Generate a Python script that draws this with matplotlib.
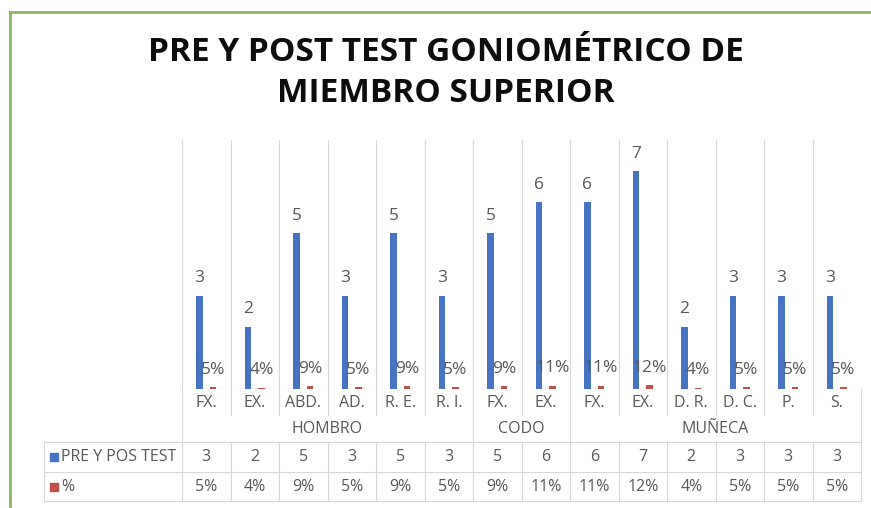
import numpy as np
import matplotlib
matplotlib.use("Agg")
import matplotlib.pyplot as plt
import matplotlib.transforms as mtransforms

plt.rcParams['font.family'] = ['Open Sans', 'DejaVu Sans']

# ----------- DATA -----------------------------------------------------------
categories = ["FX.", "EX.", "ABD.", "AD.", "R. E.", "R. I.",
              "FX.", "EX.",
              "FX.", "EX.", "D. R.", "D. C.", "P.", "S."]
groups = ["HOMBRO", "CODO", "MUÑECA"]
group_sizes = [6, 2, 6]
counts = [3, 2, 5, 3, 5, 3, 5, 6, 6, 7, 2, 3, 3, 3]
percents = [0.05, 0.04, 0.09, 0.05, 0.09, 0.05, 0.09, 0.11, 0.11, 0.12, 0.04, 0.05, 0.05, 0.05]
series_names = ["PRE Y POS TEST", "%"]
title = "PRE Y POST TEST GONIOMÉTRICO DE\nMIEMBRO SUPERIOR"
# ----------------------------------------------------------------------------

W, H = 871, 508
blue = "#4674c1"
red = "#c0504d"
txt = "#595959"
grid = "#d9d9d9"

fig = plt.figure(figsize=(W / 100, H / 100), dpi=100)
fig.patch.set_facecolor("white")

def fy(py):
    # pixel row from top -> figure fraction
    return 1 - py / H

def fx(px):
    return px / W

left, right, top, base = 182, 861, 140, 389
ax = fig.add_axes([fx(left), fy(base), fx(right) - fx(left), fy(top) - fy(base)])
n = len(categories)
x = np.arange(n)
ax.set_xlim(-0.5, n - 0.5)
ax.set_ylim(0, 8)
ax.axis("off")

bw = 0.13
off = 0.14
ax.bar(x - off, counts, width=bw, color=blue, zorder=3)
ax.bar(x + off, percents, width=bw, color=red, zorder=3)

for xi, c, p in zip(x, counts, percents):
    ax.text(xi - off, c + 0.3, str(c), ha="center", va="bottom", fontsize=12.5, color=txt)
    ax.text(xi + off, p + 0.3, f"{int(round(p * 100))}%", ha="center", va="bottom",
            fontsize=12.5, color=txt)

# vertical gridlines at category boundaries inside plot
for b in np.arange(-0.5, n, 1.0):
    ax.axvline(b, color=grid, lw=0.8, zorder=1)
ax.axhline(0, color=grid, lw=0.8, zorder=2)

# ---- data table below the plot ----
tr = mtransforms.blended_transform_factory(ax.transData, fig.transFigure)
trf = fig.transFigure

y_cat_bot, y_grp_bot, y_r1_bot, y_r2_bot = 415, 442, 472, 501
tab_left = 44

def hline(x0, x1, py):
    ax.plot([x0, x1], [fy(py), fy(py)], color=grid, lw=0.8, transform=tr, clip_on=False)

def vline(xd, py0, py1):
    ax.plot([xd, xd], [fy(py0), fy(py1)], color=grid, lw=0.8, transform=tr, clip_on=False)

group_edges = np.cumsum([0] + group_sizes) - 0.5
for b in np.arange(-0.5, n, 1.0):
    if b in group_edges:
        vline(b, base, y_r2_bot)
    else:
        vline(b, base, y_cat_bot)
        vline(b, y_grp_bot, y_r2_bot)

# horizontal lines
x_tab_left = ax.transData.inverted().transform((tab_left, 0))[0]
for py in (y_grp_bot, y_r1_bot, y_r2_bot):
    hline(x_tab_left, n - 0.5, py)
vline(x_tab_left, y_grp_bot, y_r2_bot)

fs = 11.5
# category labels
for xi, cat in zip(x, categories):
    ax.text(xi, fy(403), cat, ha="center", va="center", fontsize=fs, color=txt, transform=tr)

# group labels
start = 0
for g, s in zip(groups, group_sizes):
    ax.text(start + (s - 1) / 2, fy(429), g, ha="center", va="center", fontsize=fs,
            color=txt, transform=tr)
    start += s

# data rows
for xi, c, p in zip(x, counts, percents):
    ax.text(xi, fy(457), str(c), ha="center", va="center", fontsize=fs, color=txt, transform=tr)
    ax.text(xi, fy(487), f"{int(round(p * 100))}%", ha="center", va="center",
            fontsize=fs, color=txt, transform=tr)

# legend keys + series names
for name, col, py in zip(series_names, [blue, red], [457, 487]):
    fig.patches.append(plt.Rectangle((fx(50), fy(py + 4)), fx(8), 8 / H, color=col,
                                     transform=trf, figure=fig))
    fig.text(fx(61), fy(py), name, ha="left", va="center", fontsize=fs, color=txt)

# title
fig.text(fx(446), fy(73), title, ha="center", va="center", fontsize=24, fontweight="bold",
         color="#0d0d0d", linespacing=1.3)

# green chart border (top + left)
green = "#8db55a"
fig.add_artist(plt.Line2D([fx(10), 1], [fy(12), fy(12)], color=green, lw=2, transform=trf))
fig.add_artist(plt.Line2D([fx(10), fx(10)], [fy(12), fy(506)], color=green, lw=2, transform=trf))

fig.savefig("out.png", dpi=100, facecolor=fig.get_facecolor())
